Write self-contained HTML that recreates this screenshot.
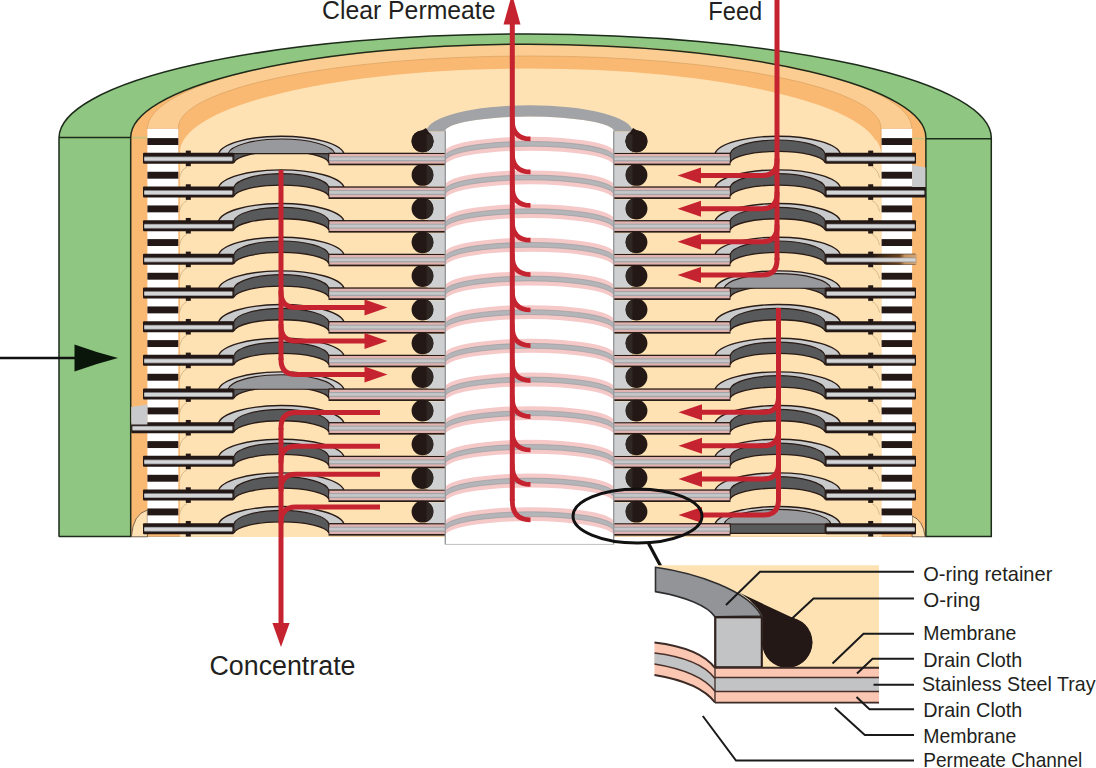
<!DOCTYPE html>
<html><head><meta charset="utf-8"><title>Membrane module</title>
<style>html,body{margin:0;padding:0;background:#fff;}svg{display:block;}</style></head>
<body>
<svg width="1096" height="768" viewBox="0 0 1096 768">
<rect width="1096" height="768" fill="#fff"/>
<path d="M59,536.8 V137.5 A466.15,104 0 0 1 991.3,138.5 V536.6 H59 Z" fill="#8fc681" stroke="#1d2b1a" stroke-width="1.5"/>
<path d="M59,137.5 H131 M926,138.7 H991.3" stroke="#1d2b1a" stroke-width="1.5" fill="none"/>
<path d="M130.7,536.8 V137.5 A397.6,93.3 0 0 1 925.9,137.5 V536.8 Z" fill="#fab973"/>
<rect x="131.5" y="536.8" width="793.6" height="3" fill="#fff"/>
<path d="M131.5,137.6 H147 M912.5,138.6 H925" stroke="#c9c27f" stroke-width="1.6"/>
<path d="M147.4,129 A382.1,85 0 0 1 911.9,129 Z" fill="#fccd92" stroke="#d9a262" stroke-width="0.7"/>
<path d="M130.7,536.8 V137.5 A397.6,93.3 0 0 1 925.9,137.5 V536.8" fill="none" stroke="#1d2b1a" stroke-width="1.5"/>
<path d="M178.3,160 V128 A351.3,72 0 0 1 881,128 V160 Z" fill="#fab973" stroke="#d9a262" stroke-width="0.7"/>
<path d="M180,536.8 V152 A349.5,83.5 0 0 1 879,152 V536.8 Z" fill="#fee2b4"/>
<path d="M876,536.8 V140 Q881,146 881.7,156 V536.8 Z" fill="#fee2b4"/>
<path d="M131.4,536.8 Q133,514 147.4,510 V536.8 Z" fill="#fee2b4" stroke="#2a1c17" stroke-width="0.6"/>
<path d="M925.2,536.8 Q923,520 912.1,516 V536.8 Z" fill="#fee2b4" stroke="#2a1c17" stroke-width="0.6"/>
<rect x="147.4" y="128.8" width="30.9" height="405.2" fill="#fff"/>
<rect x="147.4" y="138.1" width="30.9" height="6.9" fill="#231815"/>
<rect x="147.4" y="171.77" width="30.9" height="6.9" fill="#231815"/>
<rect x="147.4" y="205.44" width="30.9" height="6.9" fill="#231815"/>
<rect x="147.4" y="239.11" width="30.9" height="6.9" fill="#231815"/>
<rect x="147.4" y="272.78" width="30.9" height="6.9" fill="#231815"/>
<rect x="147.4" y="306.45" width="30.9" height="6.9" fill="#231815"/>
<rect x="147.4" y="340.12" width="30.9" height="6.9" fill="#231815"/>
<rect x="147.4" y="373.79" width="30.9" height="6.9" fill="#231815"/>
<rect x="147.4" y="407.46" width="30.9" height="6.9" fill="#231815"/>
<rect x="147.4" y="441.13" width="30.9" height="6.9" fill="#231815"/>
<rect x="147.4" y="474.8" width="30.9" height="6.9" fill="#231815"/>
<rect x="147.4" y="508.47" width="30.9" height="6.9" fill="#231815"/>
<rect x="881.6" y="128.8" width="30.5" height="405.2" fill="#fff"/>
<rect x="881.6" y="138.1" width="30.5" height="6.9" fill="#231815"/>
<rect x="881.6" y="171.77" width="30.5" height="6.9" fill="#231815"/>
<rect x="881.6" y="205.44" width="30.5" height="6.9" fill="#231815"/>
<rect x="881.6" y="239.11" width="30.5" height="6.9" fill="#231815"/>
<rect x="881.6" y="272.78" width="30.5" height="6.9" fill="#231815"/>
<rect x="881.6" y="306.45" width="30.5" height="6.9" fill="#231815"/>
<rect x="881.6" y="340.12" width="30.5" height="6.9" fill="#231815"/>
<rect x="881.6" y="373.79" width="30.5" height="6.9" fill="#231815"/>
<rect x="881.6" y="407.46" width="30.5" height="6.9" fill="#231815"/>
<rect x="881.6" y="441.13" width="30.5" height="6.9" fill="#231815"/>
<rect x="881.6" y="474.8" width="30.5" height="6.9" fill="#231815"/>
<rect x="881.6" y="508.47" width="30.5" height="6.9" fill="#231815"/>
<path d="M179.5,177.8 Q181,169.8 187,166.8" stroke="#cfae80" stroke-width="0.8" fill="none"/>
<path d="M218.5,154 A63.01,19.36 0 0 1 344,153.6 Z" fill="#c9cacc" stroke="#2a1c17" stroke-width="1.4" stroke-linejoin="round"/>
<path d="M233.8,153.6 A47.8,14.96 0 0 1 329,153.6 V162.5 H233.8 Z" fill="#58595b" stroke="#2a1c17" stroke-width="1.2"/>
<path d="M233.8,162.7 A47.8,12.43 0 0 1 329,162.7 V166.6 H233.8 Z" fill="#fee2b4"/>
<path d="M233.8,162.7 A47.8,12.43 0 0 1 329,162.7" fill="none" stroke="#2a1c17" stroke-width="1.3"/>
<path d="M228,153.6 A53.72,16.06 0 0 1 335,153.6 Z" fill="#98999c" stroke="#2a1c17" stroke-width="1.1"/>
<rect x="185.8" y="150.6" width="5" height="15.6" fill="#231815"/>
<rect x="143" y="152.8" width="90.8" height="11" rx="1" fill="#231815"/>
<rect x="144.3" y="156.5" width="88" height="4.8" fill="#8e8f92"/>
<rect x="144.3" y="157.3" width="88" height="3.2" fill="#d4d5d7"/>
<rect x="328.5" y="152.7" width="116.5" height="12.6" fill="#2a1c17"/>
<rect x="329.4" y="154" width="115.6" height="9.6" fill="#e2b4b1"/>
<rect x="329.4" y="156.3" width="115.6" height="5.1" fill="#a4a5a8"/>
<rect x="329.4" y="157.4" width="115.6" height="2.7" fill="#c6c7c9"/>
<rect x="427.5" y="132.1" width="17.5" height="20.7" fill="#cfd0d2"/>
<circle cx="422.5" cy="141.3" r="10.9" fill="#231815"/>
<path d="M426.5,131.2 A10.9,10.9 0 0 1 426.5,151.4 Z" fill="#2f2723"/>
<path d="M179.5,211.47 Q181,203.47 187,200.47" stroke="#cfae80" stroke-width="0.8" fill="none"/>
<path d="M218.5,187.67 A63.01,19.36 0 0 1 344,187.27 Z" fill="#c9cacc" stroke="#2a1c17" stroke-width="1.4" stroke-linejoin="round"/>
<path d="M233.8,187.27 A47.8,14.96 0 0 1 329,187.27 V196.17 H233.8 Z" fill="#58595b" stroke="#2a1c17" stroke-width="1.2"/>
<path d="M233.8,196.37 A47.8,12.43 0 0 1 329,196.37 V200.27 H233.8 Z" fill="#fee2b4"/>
<path d="M233.8,196.37 A47.8,12.43 0 0 1 329,196.37" fill="none" stroke="#2a1c17" stroke-width="1.3"/>
<rect x="185.8" y="184.27" width="5" height="15.6" fill="#231815"/>
<rect x="143" y="186.47" width="90.8" height="11" rx="1" fill="#231815"/>
<rect x="144.3" y="190.17" width="88" height="4.8" fill="#8e8f92"/>
<rect x="144.3" y="190.97" width="88" height="3.2" fill="#d4d5d7"/>
<rect x="328.5" y="186.37" width="116.5" height="12.6" fill="#2a1c17"/>
<rect x="329.4" y="187.67" width="115.6" height="9.6" fill="#e2b4b1"/>
<rect x="329.4" y="189.97" width="115.6" height="5.1" fill="#a4a5a8"/>
<rect x="329.4" y="191.07" width="115.6" height="2.7" fill="#c6c7c9"/>
<rect x="427.5" y="165.7" width="17.5" height="20.77" fill="#cfd0d2"/>
<circle cx="422.5" cy="174.97" r="10.9" fill="#231815"/>
<path d="M426.5,164.87 A10.9,10.9 0 0 1 426.5,185.07 Z" fill="#2f2723"/>
<path d="M179.5,245.14 Q181,237.14 187,234.14" stroke="#cfae80" stroke-width="0.8" fill="none"/>
<path d="M218.5,221.34 A63.01,19.36 0 0 1 344,220.94 Z" fill="#c9cacc" stroke="#2a1c17" stroke-width="1.4" stroke-linejoin="round"/>
<path d="M233.8,220.94 A47.8,14.96 0 0 1 329,220.94 V229.84 H233.8 Z" fill="#58595b" stroke="#2a1c17" stroke-width="1.2"/>
<path d="M233.8,230.04 A47.8,12.43 0 0 1 329,230.04 V233.94 H233.8 Z" fill="#fee2b4"/>
<path d="M233.8,230.04 A47.8,12.43 0 0 1 329,230.04" fill="none" stroke="#2a1c17" stroke-width="1.3"/>
<rect x="185.8" y="217.94" width="5" height="15.6" fill="#231815"/>
<rect x="143" y="220.14" width="90.8" height="11" rx="1" fill="#231815"/>
<rect x="144.3" y="223.84" width="88" height="4.8" fill="#8e8f92"/>
<rect x="144.3" y="224.64" width="88" height="3.2" fill="#d4d5d7"/>
<rect x="328.5" y="220.04" width="116.5" height="12.6" fill="#2a1c17"/>
<rect x="329.4" y="221.34" width="115.6" height="9.6" fill="#e2b4b1"/>
<rect x="329.4" y="223.64" width="115.6" height="5.1" fill="#a4a5a8"/>
<rect x="329.4" y="224.74" width="115.6" height="2.7" fill="#c6c7c9"/>
<rect x="427.5" y="199.37" width="17.5" height="20.77" fill="#cfd0d2"/>
<circle cx="422.5" cy="208.64" r="10.9" fill="#231815"/>
<path d="M426.5,198.54 A10.9,10.9 0 0 1 426.5,218.74 Z" fill="#2f2723"/>
<path d="M179.5,278.81 Q181,270.81 187,267.81" stroke="#cfae80" stroke-width="0.8" fill="none"/>
<path d="M218.5,255.01 A63.01,19.36 0 0 1 344,254.61 Z" fill="#c9cacc" stroke="#2a1c17" stroke-width="1.4" stroke-linejoin="round"/>
<path d="M233.8,254.61 A47.8,14.96 0 0 1 329,254.61 V263.51 H233.8 Z" fill="#58595b" stroke="#2a1c17" stroke-width="1.2"/>
<path d="M233.8,263.71 A47.8,12.43 0 0 1 329,263.71 V267.61 H233.8 Z" fill="#fee2b4"/>
<path d="M233.8,263.71 A47.8,12.43 0 0 1 329,263.71" fill="none" stroke="#2a1c17" stroke-width="1.3"/>
<rect x="185.8" y="251.61" width="5" height="15.6" fill="#231815"/>
<rect x="143" y="253.81" width="90.8" height="11" rx="1" fill="#231815"/>
<rect x="144.3" y="257.51" width="88" height="4.8" fill="#8e8f92"/>
<rect x="144.3" y="258.31" width="88" height="3.2" fill="#d4d5d7"/>
<rect x="328.5" y="253.71" width="116.5" height="12.6" fill="#2a1c17"/>
<rect x="329.4" y="255.01" width="115.6" height="9.6" fill="#e2b4b1"/>
<rect x="329.4" y="257.31" width="115.6" height="5.1" fill="#a4a5a8"/>
<rect x="329.4" y="258.41" width="115.6" height="2.7" fill="#c6c7c9"/>
<rect x="427.5" y="233.04" width="17.5" height="20.77" fill="#cfd0d2"/>
<circle cx="422.5" cy="242.31" r="10.9" fill="#231815"/>
<path d="M426.5,232.21 A10.9,10.9 0 0 1 426.5,252.41 Z" fill="#2f2723"/>
<path d="M179.5,312.48 Q181,304.48 187,301.48" stroke="#cfae80" stroke-width="0.8" fill="none"/>
<path d="M218.5,288.68 A63.01,19.36 0 0 1 344,288.28 Z" fill="#c9cacc" stroke="#2a1c17" stroke-width="1.4" stroke-linejoin="round"/>
<path d="M233.8,288.28 A47.8,14.96 0 0 1 329,288.28 V297.18 H233.8 Z" fill="#58595b" stroke="#2a1c17" stroke-width="1.2"/>
<path d="M233.8,297.38 A47.8,12.43 0 0 1 329,297.38 V301.28 H233.8 Z" fill="#fee2b4"/>
<path d="M233.8,297.38 A47.8,12.43 0 0 1 329,297.38" fill="none" stroke="#2a1c17" stroke-width="1.3"/>
<rect x="185.8" y="285.28" width="5" height="15.6" fill="#231815"/>
<rect x="143" y="287.48" width="90.8" height="11" rx="1" fill="#231815"/>
<rect x="144.3" y="291.18" width="88" height="4.8" fill="#8e8f92"/>
<rect x="144.3" y="291.98" width="88" height="3.2" fill="#d4d5d7"/>
<rect x="328.5" y="287.38" width="116.5" height="12.6" fill="#2a1c17"/>
<rect x="329.4" y="288.68" width="115.6" height="9.6" fill="#e2b4b1"/>
<rect x="329.4" y="290.98" width="115.6" height="5.1" fill="#a4a5a8"/>
<rect x="329.4" y="292.08" width="115.6" height="2.7" fill="#c6c7c9"/>
<rect x="427.5" y="266.71" width="17.5" height="20.77" fill="#cfd0d2"/>
<circle cx="422.5" cy="275.98" r="10.9" fill="#231815"/>
<path d="M426.5,265.88 A10.9,10.9 0 0 1 426.5,286.08 Z" fill="#2f2723"/>
<path d="M179.5,346.15 Q181,338.15 187,335.15" stroke="#cfae80" stroke-width="0.8" fill="none"/>
<path d="M218.5,322.35 A63.01,19.36 0 0 1 344,321.95 Z" fill="#c9cacc" stroke="#2a1c17" stroke-width="1.4" stroke-linejoin="round"/>
<path d="M233.8,321.95 A47.8,14.96 0 0 1 329,321.95 V330.85 H233.8 Z" fill="#58595b" stroke="#2a1c17" stroke-width="1.2"/>
<path d="M233.8,331.05 A47.8,12.43 0 0 1 329,331.05 V334.95 H233.8 Z" fill="#fee2b4"/>
<path d="M233.8,331.05 A47.8,12.43 0 0 1 329,331.05" fill="none" stroke="#2a1c17" stroke-width="1.3"/>
<rect x="185.8" y="318.95" width="5" height="15.6" fill="#231815"/>
<rect x="143" y="321.15" width="90.8" height="11" rx="1" fill="#231815"/>
<rect x="144.3" y="324.85" width="88" height="4.8" fill="#8e8f92"/>
<rect x="144.3" y="325.65" width="88" height="3.2" fill="#d4d5d7"/>
<rect x="328.5" y="321.05" width="116.5" height="12.6" fill="#2a1c17"/>
<rect x="329.4" y="322.35" width="115.6" height="9.6" fill="#e2b4b1"/>
<rect x="329.4" y="324.65" width="115.6" height="5.1" fill="#a4a5a8"/>
<rect x="329.4" y="325.75" width="115.6" height="2.7" fill="#c6c7c9"/>
<rect x="427.5" y="300.38" width="17.5" height="20.77" fill="#cfd0d2"/>
<circle cx="422.5" cy="309.65" r="10.9" fill="#231815"/>
<path d="M426.5,299.55 A10.9,10.9 0 0 1 426.5,319.75 Z" fill="#2f2723"/>
<path d="M179.5,379.82 Q181,371.82 187,368.82" stroke="#cfae80" stroke-width="0.8" fill="none"/>
<path d="M218.5,356.02 A63.01,19.36 0 0 1 344,355.62 Z" fill="#c9cacc" stroke="#2a1c17" stroke-width="1.4" stroke-linejoin="round"/>
<path d="M233.8,355.62 A47.8,14.96 0 0 1 329,355.62 V364.52 H233.8 Z" fill="#58595b" stroke="#2a1c17" stroke-width="1.2"/>
<path d="M233.8,364.72 A47.8,12.43 0 0 1 329,364.72 V368.62 H233.8 Z" fill="#fee2b4"/>
<path d="M233.8,364.72 A47.8,12.43 0 0 1 329,364.72" fill="none" stroke="#2a1c17" stroke-width="1.3"/>
<rect x="185.8" y="352.62" width="5" height="15.6" fill="#231815"/>
<rect x="143" y="354.82" width="90.8" height="11" rx="1" fill="#231815"/>
<rect x="144.3" y="358.52" width="88" height="4.8" fill="#8e8f92"/>
<rect x="144.3" y="359.32" width="88" height="3.2" fill="#d4d5d7"/>
<rect x="328.5" y="354.72" width="116.5" height="12.6" fill="#2a1c17"/>
<rect x="329.4" y="356.02" width="115.6" height="9.6" fill="#e2b4b1"/>
<rect x="329.4" y="358.32" width="115.6" height="5.1" fill="#a4a5a8"/>
<rect x="329.4" y="359.42" width="115.6" height="2.7" fill="#c6c7c9"/>
<rect x="427.5" y="334.05" width="17.5" height="20.77" fill="#cfd0d2"/>
<circle cx="422.5" cy="343.32" r="10.9" fill="#231815"/>
<path d="M426.5,333.22 A10.9,10.9 0 0 1 426.5,353.42 Z" fill="#2f2723"/>
<path d="M179.5,413.49 Q181,405.49 187,402.49" stroke="#cfae80" stroke-width="0.8" fill="none"/>
<path d="M218.5,389.69 A63.01,19.36 0 0 1 344,389.29 Z" fill="#c9cacc" stroke="#2a1c17" stroke-width="1.4" stroke-linejoin="round"/>
<path d="M233.8,389.29 A47.8,14.96 0 0 1 329,389.29 V398.19 H233.8 Z" fill="#58595b" stroke="#2a1c17" stroke-width="1.2"/>
<path d="M233.8,398.39 A47.8,12.43 0 0 1 329,398.39 V402.29 H233.8 Z" fill="#fee2b4"/>
<path d="M233.8,398.39 A47.8,12.43 0 0 1 329,398.39" fill="none" stroke="#2a1c17" stroke-width="1.3"/>
<path d="M228,389.29 A53.72,16.06 0 0 1 335,389.29 Z" fill="#98999c" stroke="#2a1c17" stroke-width="1.1"/>
<rect x="185.8" y="386.29" width="5" height="15.6" fill="#231815"/>
<rect x="143" y="388.49" width="90.8" height="11" rx="1" fill="#231815"/>
<rect x="144.3" y="392.19" width="88" height="4.8" fill="#8e8f92"/>
<rect x="144.3" y="392.99" width="88" height="3.2" fill="#d4d5d7"/>
<rect x="328.5" y="388.39" width="116.5" height="12.6" fill="#2a1c17"/>
<rect x="329.4" y="389.69" width="115.6" height="9.6" fill="#e2b4b1"/>
<rect x="329.4" y="391.99" width="115.6" height="5.1" fill="#a4a5a8"/>
<rect x="329.4" y="393.09" width="115.6" height="2.7" fill="#c6c7c9"/>
<rect x="427.5" y="367.72" width="17.5" height="20.77" fill="#cfd0d2"/>
<circle cx="422.5" cy="376.99" r="10.9" fill="#231815"/>
<path d="M426.5,366.89 A10.9,10.9 0 0 1 426.5,387.09 Z" fill="#2f2723"/>
<path d="M179.5,447.16 Q181,439.16 187,436.16" stroke="#cfae80" stroke-width="0.8" fill="none"/>
<path d="M218.5,423.36 A63.01,19.36 0 0 1 344,422.96 Z" fill="#c9cacc" stroke="#2a1c17" stroke-width="1.4" stroke-linejoin="round"/>
<path d="M233.8,422.96 A47.8,14.96 0 0 1 329,422.96 V431.86 H233.8 Z" fill="#58595b" stroke="#2a1c17" stroke-width="1.2"/>
<path d="M233.8,432.06 A47.8,12.43 0 0 1 329,432.06 V435.96 H233.8 Z" fill="#fee2b4"/>
<path d="M233.8,432.06 A47.8,12.43 0 0 1 329,432.06" fill="none" stroke="#2a1c17" stroke-width="1.3"/>
<rect x="185.8" y="419.96" width="5" height="15.6" fill="#231815"/>
<rect x="131.2" y="422.16" width="102.6" height="11" rx="1" fill="#231815"/>
<rect x="132.5" y="425.86" width="99.8" height="4.8" fill="#8e8f92"/>
<rect x="132.5" y="426.66" width="99.8" height="3.2" fill="#d4d5d7"/>
<rect x="328.5" y="422.06" width="116.5" height="12.6" fill="#2a1c17"/>
<rect x="329.4" y="423.36" width="115.6" height="9.6" fill="#e2b4b1"/>
<rect x="329.4" y="425.66" width="115.6" height="5.1" fill="#a4a5a8"/>
<rect x="329.4" y="426.76" width="115.6" height="2.7" fill="#c6c7c9"/>
<rect x="427.5" y="401.39" width="17.5" height="20.77" fill="#cfd0d2"/>
<circle cx="422.5" cy="410.66" r="10.9" fill="#231815"/>
<path d="M426.5,400.56 A10.9,10.9 0 0 1 426.5,420.76 Z" fill="#2f2723"/>
<path d="M179.5,480.83 Q181,472.83 187,469.83" stroke="#cfae80" stroke-width="0.8" fill="none"/>
<path d="M218.5,457.03 A63.01,19.36 0 0 1 344,456.63 Z" fill="#c9cacc" stroke="#2a1c17" stroke-width="1.4" stroke-linejoin="round"/>
<path d="M233.8,456.63 A47.8,14.96 0 0 1 329,456.63 V465.53 H233.8 Z" fill="#58595b" stroke="#2a1c17" stroke-width="1.2"/>
<path d="M233.8,465.73 A47.8,12.43 0 0 1 329,465.73 V469.63 H233.8 Z" fill="#fee2b4"/>
<path d="M233.8,465.73 A47.8,12.43 0 0 1 329,465.73" fill="none" stroke="#2a1c17" stroke-width="1.3"/>
<rect x="185.8" y="453.63" width="5" height="15.6" fill="#231815"/>
<rect x="143" y="455.83" width="90.8" height="11" rx="1" fill="#231815"/>
<rect x="144.3" y="459.53" width="88" height="4.8" fill="#8e8f92"/>
<rect x="144.3" y="460.33" width="88" height="3.2" fill="#d4d5d7"/>
<rect x="328.5" y="455.73" width="116.5" height="12.6" fill="#2a1c17"/>
<rect x="329.4" y="457.03" width="115.6" height="9.6" fill="#e2b4b1"/>
<rect x="329.4" y="459.33" width="115.6" height="5.1" fill="#a4a5a8"/>
<rect x="329.4" y="460.43" width="115.6" height="2.7" fill="#c6c7c9"/>
<rect x="427.5" y="435.06" width="17.5" height="20.77" fill="#cfd0d2"/>
<circle cx="422.5" cy="444.33" r="10.9" fill="#231815"/>
<path d="M426.5,434.23 A10.9,10.9 0 0 1 426.5,454.43 Z" fill="#2f2723"/>
<path d="M179.5,514.5 Q181,506.5 187,503.5" stroke="#cfae80" stroke-width="0.8" fill="none"/>
<path d="M218.5,490.7 A63.01,19.36 0 0 1 344,490.3 Z" fill="#c9cacc" stroke="#2a1c17" stroke-width="1.4" stroke-linejoin="round"/>
<path d="M233.8,490.3 A47.8,14.96 0 0 1 329,490.3 V499.2 H233.8 Z" fill="#58595b" stroke="#2a1c17" stroke-width="1.2"/>
<path d="M233.8,499.4 A47.8,12.43 0 0 1 329,499.4 V503.3 H233.8 Z" fill="#fee2b4"/>
<path d="M233.8,499.4 A47.8,12.43 0 0 1 329,499.4" fill="none" stroke="#2a1c17" stroke-width="1.3"/>
<rect x="185.8" y="487.3" width="5" height="15.6" fill="#231815"/>
<rect x="143" y="489.5" width="90.8" height="11" rx="1" fill="#231815"/>
<rect x="144.3" y="493.2" width="88" height="4.8" fill="#8e8f92"/>
<rect x="144.3" y="494" width="88" height="3.2" fill="#d4d5d7"/>
<rect x="328.5" y="489.4" width="116.5" height="12.6" fill="#2a1c17"/>
<rect x="329.4" y="490.7" width="115.6" height="9.6" fill="#e2b4b1"/>
<rect x="329.4" y="493" width="115.6" height="5.1" fill="#a4a5a8"/>
<rect x="329.4" y="494.1" width="115.6" height="2.7" fill="#c6c7c9"/>
<rect x="427.5" y="468.73" width="17.5" height="20.77" fill="#cfd0d2"/>
<circle cx="422.5" cy="478" r="10.9" fill="#231815"/>
<path d="M426.5,467.9 A10.9,10.9 0 0 1 426.5,488.1 Z" fill="#2f2723"/>
<path d="M218.5,524.37 A63.01,19.36 0 0 1 344,523.97 Z" fill="#c9cacc" stroke="#2a1c17" stroke-width="1.4" stroke-linejoin="round"/>
<path d="M233.8,523.97 A47.8,14.96 0 0 1 329,523.97 V532.87 H233.8 Z" fill="#58595b" stroke="#2a1c17" stroke-width="1.2"/>
<path d="M233.8,533.07 A47.8,12.43 0 0 1 329,533.07 V536.97 H233.8 Z" fill="#fee2b4"/>
<path d="M233.8,533.07 A47.8,12.43 0 0 1 329,533.07" fill="none" stroke="#2a1c17" stroke-width="1.3"/>
<rect x="185.8" y="520.97" width="5" height="15.6" fill="#231815"/>
<rect x="143" y="523.17" width="90.8" height="11" rx="1" fill="#231815"/>
<rect x="144.3" y="526.87" width="88" height="4.8" fill="#8e8f92"/>
<rect x="144.3" y="527.67" width="88" height="3.2" fill="#d4d5d7"/>
<rect x="328.5" y="523.07" width="116.5" height="12.6" fill="#2a1c17"/>
<rect x="329.4" y="524.37" width="115.6" height="9.6" fill="#e2b4b1"/>
<rect x="329.4" y="526.67" width="115.6" height="5.1" fill="#a4a5a8"/>
<rect x="329.4" y="527.77" width="115.6" height="2.7" fill="#c6c7c9"/>
<rect x="427.5" y="502.4" width="17.5" height="20.77" fill="#cfd0d2"/>
<circle cx="422.5" cy="511.67" r="10.9" fill="#231815"/>
<path d="M426.5,501.57 A10.9,10.9 0 0 1 426.5,521.77 Z" fill="#2f2723"/>
<path d="M879.5,177.8 Q878,169.8 872,166.8" stroke="#cfae80" stroke-width="0.8" fill="none"/>
<path d="M840.5,154 A63.01,19.36 0 0 0 715,153.6 Z" fill="#c9cacc" stroke="#2a1c17" stroke-width="1.4" stroke-linejoin="round"/>
<path d="M825.2,153.6 A47.8,14.96 0 0 0 730,153.6 V162.5 H825.2 Z" fill="#58595b" stroke="#2a1c17" stroke-width="1.2"/>
<path d="M825.2,162.7 A47.8,12.43 0 0 0 730,162.7 V166.6 H825.2 Z" fill="#fee2b4"/>
<path d="M825.2,162.7 A47.8,12.43 0 0 0 730,162.7" fill="none" stroke="#2a1c17" stroke-width="1.3"/>
<rect x="868.2" y="150.6" width="5" height="15.6" fill="#231815"/>
<rect x="825.2" y="152.8" width="90.8" height="11" rx="1" fill="#231815"/>
<rect x="826.7" y="156.5" width="88" height="4.8" fill="#8e8f92"/>
<rect x="826.7" y="157.3" width="88" height="3.2" fill="#d4d5d7"/>
<rect x="614" y="152.7" width="116.5" height="12.6" fill="#2a1c17"/>
<rect x="614" y="154" width="115.6" height="9.6" fill="#e2b4b1"/>
<rect x="614" y="156.3" width="115.6" height="5.1" fill="#a4a5a8"/>
<rect x="614" y="157.4" width="115.6" height="2.7" fill="#c6c7c9"/>
<rect x="614" y="132.1" width="17.5" height="20.7" fill="#cfd0d2"/>
<circle cx="636.5" cy="141.3" r="10.9" fill="#231815"/>
<path d="M632.5,131.2 A10.9,10.9 0 0 0 632.5,151.4 Z" fill="#2f2723"/>
<path d="M879.5,211.47 Q878,203.47 872,200.47" stroke="#cfae80" stroke-width="0.8" fill="none"/>
<path d="M840.5,187.67 A63.01,19.36 0 0 0 715,187.27 Z" fill="#c9cacc" stroke="#2a1c17" stroke-width="1.4" stroke-linejoin="round"/>
<path d="M825.2,187.27 A47.8,14.96 0 0 0 730,187.27 V196.17 H825.2 Z" fill="#58595b" stroke="#2a1c17" stroke-width="1.2"/>
<path d="M825.2,196.37 A47.8,12.43 0 0 0 730,196.37 V200.27 H825.2 Z" fill="#fee2b4"/>
<path d="M825.2,196.37 A47.8,12.43 0 0 0 730,196.37" fill="none" stroke="#2a1c17" stroke-width="1.3"/>
<rect x="868.2" y="184.27" width="5" height="15.6" fill="#231815"/>
<rect x="825.2" y="186.47" width="100.4" height="11" rx="1" fill="#231815"/>
<rect x="826.7" y="190.17" width="97.6" height="4.8" fill="#8e8f92"/>
<rect x="826.7" y="190.97" width="97.6" height="3.2" fill="#d4d5d7"/>
<rect x="614" y="186.37" width="116.5" height="12.6" fill="#2a1c17"/>
<rect x="614" y="187.67" width="115.6" height="9.6" fill="#e2b4b1"/>
<rect x="614" y="189.97" width="115.6" height="5.1" fill="#a4a5a8"/>
<rect x="614" y="191.07" width="115.6" height="2.7" fill="#c6c7c9"/>
<rect x="614" y="165.7" width="17.5" height="20.77" fill="#cfd0d2"/>
<circle cx="636.5" cy="174.97" r="10.9" fill="#231815"/>
<path d="M632.5,164.87 A10.9,10.9 0 0 0 632.5,185.07 Z" fill="#2f2723"/>
<path d="M879.5,245.14 Q878,237.14 872,234.14" stroke="#cfae80" stroke-width="0.8" fill="none"/>
<path d="M840.5,221.34 A63.01,19.36 0 0 0 715,220.94 Z" fill="#c9cacc" stroke="#2a1c17" stroke-width="1.4" stroke-linejoin="round"/>
<path d="M825.2,220.94 A47.8,14.96 0 0 0 730,220.94 V229.84 H825.2 Z" fill="#58595b" stroke="#2a1c17" stroke-width="1.2"/>
<path d="M825.2,230.04 A47.8,12.43 0 0 0 730,230.04 V233.94 H825.2 Z" fill="#fee2b4"/>
<path d="M825.2,230.04 A47.8,12.43 0 0 0 730,230.04" fill="none" stroke="#2a1c17" stroke-width="1.3"/>
<rect x="868.2" y="217.94" width="5" height="15.6" fill="#231815"/>
<rect x="825.2" y="220.14" width="90.8" height="11" rx="1" fill="#231815"/>
<rect x="826.7" y="223.84" width="88" height="4.8" fill="#8e8f92"/>
<rect x="826.7" y="224.64" width="88" height="3.2" fill="#d4d5d7"/>
<rect x="614" y="220.04" width="116.5" height="12.6" fill="#2a1c17"/>
<rect x="614" y="221.34" width="115.6" height="9.6" fill="#e2b4b1"/>
<rect x="614" y="223.64" width="115.6" height="5.1" fill="#a4a5a8"/>
<rect x="614" y="224.74" width="115.6" height="2.7" fill="#c6c7c9"/>
<rect x="614" y="199.37" width="17.5" height="20.77" fill="#cfd0d2"/>
<circle cx="636.5" cy="208.64" r="10.9" fill="#231815"/>
<path d="M632.5,198.54 A10.9,10.9 0 0 0 632.5,218.74 Z" fill="#2f2723"/>
<path d="M879.5,278.81 Q878,270.81 872,267.81" stroke="#cfae80" stroke-width="0.8" fill="none"/>
<path d="M840.5,255.01 A63.01,19.36 0 0 0 715,254.61 Z" fill="#c9cacc" stroke="#2a1c17" stroke-width="1.4" stroke-linejoin="round"/>
<path d="M825.2,254.61 A47.8,14.96 0 0 0 730,254.61 V263.51 H825.2 Z" fill="#58595b" stroke="#2a1c17" stroke-width="1.2"/>
<path d="M825.2,263.71 A47.8,12.43 0 0 0 730,263.71 V267.61 H825.2 Z" fill="#fee2b4"/>
<path d="M825.2,263.71 A47.8,12.43 0 0 0 730,263.71" fill="none" stroke="#2a1c17" stroke-width="1.3"/>
<rect x="868.2" y="251.61" width="5" height="15.6" fill="#231815"/>
<rect x="825.2" y="253.81" width="90.8" height="11" rx="1" fill="#231815"/>
<rect x="826.7" y="257.51" width="88" height="4.8" fill="#8e8f92"/>
<rect x="826.7" y="258.31" width="88" height="3.2" fill="#d4d5d7"/>
<rect x="614" y="253.71" width="116.5" height="12.6" fill="#2a1c17"/>
<rect x="614" y="255.01" width="115.6" height="9.6" fill="#e2b4b1"/>
<rect x="614" y="257.31" width="115.6" height="5.1" fill="#a4a5a8"/>
<rect x="614" y="258.41" width="115.6" height="2.7" fill="#c6c7c9"/>
<rect x="614" y="233.04" width="17.5" height="20.77" fill="#cfd0d2"/>
<circle cx="636.5" cy="242.31" r="10.9" fill="#231815"/>
<path d="M632.5,232.21 A10.9,10.9 0 0 0 632.5,252.41 Z" fill="#2f2723"/>
<path d="M879.5,312.48 Q878,304.48 872,301.48" stroke="#cfae80" stroke-width="0.8" fill="none"/>
<path d="M840.5,288.68 A63.01,19.36 0 0 0 715,288.28 Z" fill="#c9cacc" stroke="#2a1c17" stroke-width="1.4" stroke-linejoin="round"/>
<path d="M825.2,288.28 A47.8,14.96 0 0 0 730,288.28 V297.18 H825.2 Z" fill="#58595b" stroke="#2a1c17" stroke-width="1.2"/>
<path d="M825.2,297.38 A47.8,12.43 0 0 0 730,297.38 V301.28 H825.2 Z" fill="#fee2b4"/>
<path d="M825.2,297.38 A47.8,12.43 0 0 0 730,297.38" fill="none" stroke="#2a1c17" stroke-width="1.3"/>
<path d="M831,288.28 A53.72,16.06 0 0 0 724,288.28 Z" fill="#98999c" stroke="#2a1c17" stroke-width="1.1"/>
<rect x="868.2" y="285.28" width="5" height="15.6" fill="#231815"/>
<rect x="825.2" y="287.48" width="90.8" height="11" rx="1" fill="#231815"/>
<rect x="826.7" y="291.18" width="88" height="4.8" fill="#8e8f92"/>
<rect x="826.7" y="291.98" width="88" height="3.2" fill="#d4d5d7"/>
<rect x="614" y="287.38" width="116.5" height="12.6" fill="#2a1c17"/>
<rect x="614" y="288.68" width="115.6" height="9.6" fill="#e2b4b1"/>
<rect x="614" y="290.98" width="115.6" height="5.1" fill="#a4a5a8"/>
<rect x="614" y="292.08" width="115.6" height="2.7" fill="#c6c7c9"/>
<rect x="614" y="266.71" width="17.5" height="20.77" fill="#cfd0d2"/>
<circle cx="636.5" cy="275.98" r="10.9" fill="#231815"/>
<path d="M632.5,265.88 A10.9,10.9 0 0 0 632.5,286.08 Z" fill="#2f2723"/>
<path d="M879.5,346.15 Q878,338.15 872,335.15" stroke="#cfae80" stroke-width="0.8" fill="none"/>
<path d="M840.5,322.35 A63.01,19.36 0 0 0 715,321.95 Z" fill="#c9cacc" stroke="#2a1c17" stroke-width="1.4" stroke-linejoin="round"/>
<path d="M825.2,321.95 A47.8,14.96 0 0 0 730,321.95 V330.85 H825.2 Z" fill="#58595b" stroke="#2a1c17" stroke-width="1.2"/>
<path d="M825.2,331.05 A47.8,12.43 0 0 0 730,331.05 V334.95 H825.2 Z" fill="#fee2b4"/>
<path d="M825.2,331.05 A47.8,12.43 0 0 0 730,331.05" fill="none" stroke="#2a1c17" stroke-width="1.3"/>
<rect x="868.2" y="318.95" width="5" height="15.6" fill="#231815"/>
<rect x="825.2" y="321.15" width="90.8" height="11" rx="1" fill="#231815"/>
<rect x="826.7" y="324.85" width="88" height="4.8" fill="#8e8f92"/>
<rect x="826.7" y="325.65" width="88" height="3.2" fill="#d4d5d7"/>
<rect x="614" y="321.05" width="116.5" height="12.6" fill="#2a1c17"/>
<rect x="614" y="322.35" width="115.6" height="9.6" fill="#e2b4b1"/>
<rect x="614" y="324.65" width="115.6" height="5.1" fill="#a4a5a8"/>
<rect x="614" y="325.75" width="115.6" height="2.7" fill="#c6c7c9"/>
<rect x="614" y="300.38" width="17.5" height="20.77" fill="#cfd0d2"/>
<circle cx="636.5" cy="309.65" r="10.9" fill="#231815"/>
<path d="M632.5,299.55 A10.9,10.9 0 0 0 632.5,319.75 Z" fill="#2f2723"/>
<path d="M879.5,379.82 Q878,371.82 872,368.82" stroke="#cfae80" stroke-width="0.8" fill="none"/>
<path d="M840.5,356.02 A63.01,19.36 0 0 0 715,355.62 Z" fill="#c9cacc" stroke="#2a1c17" stroke-width="1.4" stroke-linejoin="round"/>
<path d="M825.2,355.62 A47.8,14.96 0 0 0 730,355.62 V364.52 H825.2 Z" fill="#58595b" stroke="#2a1c17" stroke-width="1.2"/>
<path d="M825.2,364.72 A47.8,12.43 0 0 0 730,364.72 V368.62 H825.2 Z" fill="#fee2b4"/>
<path d="M825.2,364.72 A47.8,12.43 0 0 0 730,364.72" fill="none" stroke="#2a1c17" stroke-width="1.3"/>
<rect x="868.2" y="352.62" width="5" height="15.6" fill="#231815"/>
<rect x="825.2" y="354.82" width="90.8" height="11" rx="1" fill="#231815"/>
<rect x="826.7" y="358.52" width="88" height="4.8" fill="#8e8f92"/>
<rect x="826.7" y="359.32" width="88" height="3.2" fill="#d4d5d7"/>
<rect x="614" y="354.72" width="116.5" height="12.6" fill="#2a1c17"/>
<rect x="614" y="356.02" width="115.6" height="9.6" fill="#e2b4b1"/>
<rect x="614" y="358.32" width="115.6" height="5.1" fill="#a4a5a8"/>
<rect x="614" y="359.42" width="115.6" height="2.7" fill="#c6c7c9"/>
<rect x="614" y="334.05" width="17.5" height="20.77" fill="#cfd0d2"/>
<circle cx="636.5" cy="343.32" r="10.9" fill="#231815"/>
<path d="M632.5,333.22 A10.9,10.9 0 0 0 632.5,353.42 Z" fill="#2f2723"/>
<path d="M879.5,413.49 Q878,405.49 872,402.49" stroke="#cfae80" stroke-width="0.8" fill="none"/>
<path d="M840.5,389.69 A63.01,19.36 0 0 0 715,389.29 Z" fill="#c9cacc" stroke="#2a1c17" stroke-width="1.4" stroke-linejoin="round"/>
<path d="M825.2,389.29 A47.8,14.96 0 0 0 730,389.29 V398.19 H825.2 Z" fill="#58595b" stroke="#2a1c17" stroke-width="1.2"/>
<path d="M825.2,398.39 A47.8,12.43 0 0 0 730,398.39 V402.29 H825.2 Z" fill="#fee2b4"/>
<path d="M825.2,398.39 A47.8,12.43 0 0 0 730,398.39" fill="none" stroke="#2a1c17" stroke-width="1.3"/>
<rect x="868.2" y="386.29" width="5" height="15.6" fill="#231815"/>
<rect x="825.2" y="388.49" width="90.8" height="11" rx="1" fill="#231815"/>
<rect x="826.7" y="392.19" width="88" height="4.8" fill="#8e8f92"/>
<rect x="826.7" y="392.99" width="88" height="3.2" fill="#d4d5d7"/>
<rect x="614" y="388.39" width="116.5" height="12.6" fill="#2a1c17"/>
<rect x="614" y="389.69" width="115.6" height="9.6" fill="#e2b4b1"/>
<rect x="614" y="391.99" width="115.6" height="5.1" fill="#a4a5a8"/>
<rect x="614" y="393.09" width="115.6" height="2.7" fill="#c6c7c9"/>
<rect x="614" y="367.72" width="17.5" height="20.77" fill="#cfd0d2"/>
<circle cx="636.5" cy="376.99" r="10.9" fill="#231815"/>
<path d="M632.5,366.89 A10.9,10.9 0 0 0 632.5,387.09 Z" fill="#2f2723"/>
<path d="M879.5,447.16 Q878,439.16 872,436.16" stroke="#cfae80" stroke-width="0.8" fill="none"/>
<path d="M840.5,423.36 A63.01,19.36 0 0 0 715,422.96 Z" fill="#c9cacc" stroke="#2a1c17" stroke-width="1.4" stroke-linejoin="round"/>
<path d="M825.2,422.96 A47.8,14.96 0 0 0 730,422.96 V431.86 H825.2 Z" fill="#58595b" stroke="#2a1c17" stroke-width="1.2"/>
<path d="M825.2,432.06 A47.8,12.43 0 0 0 730,432.06 V435.96 H825.2 Z" fill="#fee2b4"/>
<path d="M825.2,432.06 A47.8,12.43 0 0 0 730,432.06" fill="none" stroke="#2a1c17" stroke-width="1.3"/>
<rect x="868.2" y="419.96" width="5" height="15.6" fill="#231815"/>
<rect x="825.2" y="422.16" width="90.8" height="11" rx="1" fill="#231815"/>
<rect x="826.7" y="425.86" width="88" height="4.8" fill="#8e8f92"/>
<rect x="826.7" y="426.66" width="88" height="3.2" fill="#d4d5d7"/>
<rect x="614" y="422.06" width="116.5" height="12.6" fill="#2a1c17"/>
<rect x="614" y="423.36" width="115.6" height="9.6" fill="#e2b4b1"/>
<rect x="614" y="425.66" width="115.6" height="5.1" fill="#a4a5a8"/>
<rect x="614" y="426.76" width="115.6" height="2.7" fill="#c6c7c9"/>
<rect x="614" y="401.39" width="17.5" height="20.77" fill="#cfd0d2"/>
<circle cx="636.5" cy="410.66" r="10.9" fill="#231815"/>
<path d="M632.5,400.56 A10.9,10.9 0 0 0 632.5,420.76 Z" fill="#2f2723"/>
<path d="M879.5,480.83 Q878,472.83 872,469.83" stroke="#cfae80" stroke-width="0.8" fill="none"/>
<path d="M840.5,457.03 A63.01,19.36 0 0 0 715,456.63 Z" fill="#c9cacc" stroke="#2a1c17" stroke-width="1.4" stroke-linejoin="round"/>
<path d="M825.2,456.63 A47.8,14.96 0 0 0 730,456.63 V465.53 H825.2 Z" fill="#58595b" stroke="#2a1c17" stroke-width="1.2"/>
<path d="M825.2,465.73 A47.8,12.43 0 0 0 730,465.73 V469.63 H825.2 Z" fill="#fee2b4"/>
<path d="M825.2,465.73 A47.8,12.43 0 0 0 730,465.73" fill="none" stroke="#2a1c17" stroke-width="1.3"/>
<rect x="868.2" y="453.63" width="5" height="15.6" fill="#231815"/>
<rect x="825.2" y="455.83" width="90.8" height="11" rx="1" fill="#231815"/>
<rect x="826.7" y="459.53" width="88" height="4.8" fill="#8e8f92"/>
<rect x="826.7" y="460.33" width="88" height="3.2" fill="#d4d5d7"/>
<rect x="614" y="455.73" width="116.5" height="12.6" fill="#2a1c17"/>
<rect x="614" y="457.03" width="115.6" height="9.6" fill="#e2b4b1"/>
<rect x="614" y="459.33" width="115.6" height="5.1" fill="#a4a5a8"/>
<rect x="614" y="460.43" width="115.6" height="2.7" fill="#c6c7c9"/>
<rect x="614" y="435.06" width="17.5" height="20.77" fill="#cfd0d2"/>
<circle cx="636.5" cy="444.33" r="10.9" fill="#231815"/>
<path d="M632.5,434.23 A10.9,10.9 0 0 0 632.5,454.43 Z" fill="#2f2723"/>
<path d="M879.5,514.5 Q878,506.5 872,503.5" stroke="#cfae80" stroke-width="0.8" fill="none"/>
<path d="M840.5,490.7 A63.01,19.36 0 0 0 715,490.3 Z" fill="#c9cacc" stroke="#2a1c17" stroke-width="1.4" stroke-linejoin="round"/>
<path d="M825.2,490.3 A47.8,14.96 0 0 0 730,490.3 V499.2 H825.2 Z" fill="#58595b" stroke="#2a1c17" stroke-width="1.2"/>
<path d="M825.2,499.4 A47.8,12.43 0 0 0 730,499.4 V503.3 H825.2 Z" fill="#fee2b4"/>
<path d="M825.2,499.4 A47.8,12.43 0 0 0 730,499.4" fill="none" stroke="#2a1c17" stroke-width="1.3"/>
<rect x="868.2" y="487.3" width="5" height="15.6" fill="#231815"/>
<rect x="825.2" y="489.5" width="90.8" height="11" rx="1" fill="#231815"/>
<rect x="826.7" y="493.2" width="88" height="4.8" fill="#8e8f92"/>
<rect x="826.7" y="494" width="88" height="3.2" fill="#d4d5d7"/>
<rect x="614" y="489.4" width="116.5" height="12.6" fill="#2a1c17"/>
<rect x="614" y="490.7" width="115.6" height="9.6" fill="#e2b4b1"/>
<rect x="614" y="493" width="115.6" height="5.1" fill="#a4a5a8"/>
<rect x="614" y="494.1" width="115.6" height="2.7" fill="#c6c7c9"/>
<rect x="614" y="468.73" width="17.5" height="20.77" fill="#cfd0d2"/>
<circle cx="636.5" cy="478" r="10.9" fill="#231815"/>
<path d="M632.5,467.9 A10.9,10.9 0 0 0 632.5,488.1 Z" fill="#2f2723"/>
<path d="M840.5,524.37 A63.01,19.36 0 0 0 715,523.97 Z" fill="#c9cacc" stroke="#2a1c17" stroke-width="1.4" stroke-linejoin="round"/>
<path d="M825.2,523.97 A47.8,14.96 0 0 0 730,523.97 V533.47 H825.2 Z" fill="#58595b" stroke="#2a1c17" stroke-width="1.2"/>
<path d="M831,523.97 A53.72,16.06 0 0 0 724,523.97 Z" fill="#98999c" stroke="#2a1c17" stroke-width="1.1"/>
<rect x="868.2" y="520.97" width="5" height="15.6" fill="#231815"/>
<rect x="825.2" y="523.17" width="90.8" height="11" rx="1" fill="#231815"/>
<rect x="826.7" y="526.87" width="88" height="4.8" fill="#8e8f92"/>
<rect x="826.7" y="527.67" width="88" height="3.2" fill="#d4d5d7"/>
<rect x="614" y="523.07" width="116.5" height="12.6" fill="#2a1c17"/>
<rect x="614" y="524.37" width="115.6" height="9.6" fill="#e2b4b1"/>
<rect x="614" y="526.67" width="115.6" height="5.1" fill="#a4a5a8"/>
<rect x="614" y="527.77" width="115.6" height="2.7" fill="#c6c7c9"/>
<rect x="614" y="502.4" width="17.5" height="20.77" fill="#cfd0d2"/>
<circle cx="636.5" cy="511.67" r="10.9" fill="#231815"/>
<path d="M632.5,501.57 A10.9,10.9 0 0 0 632.5,521.77 Z" fill="#2f2723"/>
<path d="M131.3,424.5 V407 L147.4,404.5 V424.5 Z" fill="#c9cacc"/>
<path d="M925.4,187 V167.5 L912.1,165 V187 Z" fill="#c9cacc"/>
<linearGradient id="tg" x1="0" x2="1" y1="0" y2="0"><stop offset="0" stop-color="#2a1a12"/><stop offset="0.6" stop-color="#6b431f"/><stop offset="0.72" stop-color="#c6925e"/><stop offset="1" stop-color="#d2a678"/></linearGradient>
<rect x="874" y="254.21" width="42.8" height="10.4" rx="1" fill="url(#tg)"/>
<rect x="874" y="257.51" width="41.5" height="4.8" fill="#9a9896"/>
<rect x="874" y="258.31" width="41.5" height="3.2" fill="#d4d5d7"/>
<!-- tube -->
<path d="M445,544.4 V131.5 A84.5,15 0 0 1 614,131.5 V544.4 Z" fill="#fff"/>
<clipPath id="tc"><rect x="445" y="110" width="169" height="434.4"/></clipPath>
<g clip-path="url(#tc)">
<path d="M445,151.8 A84.5,15 0 0 1 614,151.8 V165.7 A84.5,15 0 0 0 445,165.7 Z" fill="#f6c9c9"/>
<path d="M445,156.4 A84.5,15 0 0 1 614,156.4 V161.2 A84.5,15 0 0 0 445,161.2 Z" fill="#b4b5b8"/>
<path d="M445,156.4 A84.5,15 0 0 1 614,156.4 M445,161.2 A84.5,15 0 0 1 614,161.2" stroke="#8d8e91" stroke-width="0.5" fill="none"/>
<path d="M445,185.47 A84.5,15 0 0 1 614,185.47 V199.37 A84.5,15 0 0 0 445,199.37 Z" fill="#f6c9c9"/>
<path d="M445,190.07 A84.5,15 0 0 1 614,190.07 V194.87 A84.5,15 0 0 0 445,194.87 Z" fill="#b4b5b8"/>
<path d="M445,190.07 A84.5,15 0 0 1 614,190.07 M445,194.87 A84.5,15 0 0 1 614,194.87" stroke="#8d8e91" stroke-width="0.5" fill="none"/>
<path d="M445,219.14 A84.5,15 0 0 1 614,219.14 V233.04 A84.5,15 0 0 0 445,233.04 Z" fill="#f6c9c9"/>
<path d="M445,223.74 A84.5,15 0 0 1 614,223.74 V228.54 A84.5,15 0 0 0 445,228.54 Z" fill="#b4b5b8"/>
<path d="M445,223.74 A84.5,15 0 0 1 614,223.74 M445,228.54 A84.5,15 0 0 1 614,228.54" stroke="#8d8e91" stroke-width="0.5" fill="none"/>
<path d="M445,252.81 A84.5,15 0 0 1 614,252.81 V266.71 A84.5,15 0 0 0 445,266.71 Z" fill="#f6c9c9"/>
<path d="M445,257.41 A84.5,15 0 0 1 614,257.41 V262.21 A84.5,15 0 0 0 445,262.21 Z" fill="#b4b5b8"/>
<path d="M445,257.41 A84.5,15 0 0 1 614,257.41 M445,262.21 A84.5,15 0 0 1 614,262.21" stroke="#8d8e91" stroke-width="0.5" fill="none"/>
<path d="M445,286.48 A84.5,15 0 0 1 614,286.48 V300.38 A84.5,15 0 0 0 445,300.38 Z" fill="#f6c9c9"/>
<path d="M445,291.08 A84.5,15 0 0 1 614,291.08 V295.88 A84.5,15 0 0 0 445,295.88 Z" fill="#b4b5b8"/>
<path d="M445,291.08 A84.5,15 0 0 1 614,291.08 M445,295.88 A84.5,15 0 0 1 614,295.88" stroke="#8d8e91" stroke-width="0.5" fill="none"/>
<path d="M445,320.15 A84.5,15 0 0 1 614,320.15 V334.05 A84.5,15 0 0 0 445,334.05 Z" fill="#f6c9c9"/>
<path d="M445,324.75 A84.5,15 0 0 1 614,324.75 V329.55 A84.5,15 0 0 0 445,329.55 Z" fill="#b4b5b8"/>
<path d="M445,324.75 A84.5,15 0 0 1 614,324.75 M445,329.55 A84.5,15 0 0 1 614,329.55" stroke="#8d8e91" stroke-width="0.5" fill="none"/>
<path d="M445,353.82 A84.5,15 0 0 1 614,353.82 V367.72 A84.5,15 0 0 0 445,367.72 Z" fill="#f6c9c9"/>
<path d="M445,358.42 A84.5,15 0 0 1 614,358.42 V363.22 A84.5,15 0 0 0 445,363.22 Z" fill="#b4b5b8"/>
<path d="M445,358.42 A84.5,15 0 0 1 614,358.42 M445,363.22 A84.5,15 0 0 1 614,363.22" stroke="#8d8e91" stroke-width="0.5" fill="none"/>
<path d="M445,387.49 A84.5,15 0 0 1 614,387.49 V401.39 A84.5,15 0 0 0 445,401.39 Z" fill="#f6c9c9"/>
<path d="M445,392.09 A84.5,15 0 0 1 614,392.09 V396.89 A84.5,15 0 0 0 445,396.89 Z" fill="#b4b5b8"/>
<path d="M445,392.09 A84.5,15 0 0 1 614,392.09 M445,396.89 A84.5,15 0 0 1 614,396.89" stroke="#8d8e91" stroke-width="0.5" fill="none"/>
<path d="M445,421.16 A84.5,15 0 0 1 614,421.16 V435.06 A84.5,15 0 0 0 445,435.06 Z" fill="#f6c9c9"/>
<path d="M445,425.76 A84.5,15 0 0 1 614,425.76 V430.56 A84.5,15 0 0 0 445,430.56 Z" fill="#b4b5b8"/>
<path d="M445,425.76 A84.5,15 0 0 1 614,425.76 M445,430.56 A84.5,15 0 0 1 614,430.56" stroke="#8d8e91" stroke-width="0.5" fill="none"/>
<path d="M445,454.83 A84.5,15 0 0 1 614,454.83 V468.73 A84.5,15 0 0 0 445,468.73 Z" fill="#f6c9c9"/>
<path d="M445,459.43 A84.5,15 0 0 1 614,459.43 V464.23 A84.5,15 0 0 0 445,464.23 Z" fill="#b4b5b8"/>
<path d="M445,459.43 A84.5,15 0 0 1 614,459.43 M445,464.23 A84.5,15 0 0 1 614,464.23" stroke="#8d8e91" stroke-width="0.5" fill="none"/>
<path d="M445,488.5 A84.5,15 0 0 1 614,488.5 V502.4 A84.5,15 0 0 0 445,502.4 Z" fill="#f6c9c9"/>
<path d="M445,493.1 A84.5,15 0 0 1 614,493.1 V497.9 A84.5,15 0 0 0 445,497.9 Z" fill="#b4b5b8"/>
<path d="M445,493.1 A84.5,15 0 0 1 614,493.1 M445,497.9 A84.5,15 0 0 1 614,497.9" stroke="#8d8e91" stroke-width="0.5" fill="none"/>
<path d="M445,522.17 A84.5,15 0 0 1 614,522.17 V536.07 A84.5,15 0 0 0 445,536.07 Z" fill="#f6c9c9"/>
<path d="M445,526.77 A84.5,15 0 0 1 614,526.77 V531.57 A84.5,15 0 0 0 445,531.57 Z" fill="#b4b5b8"/>
<path d="M445,526.77 A84.5,15 0 0 1 614,526.77 M445,531.57 A84.5,15 0 0 1 614,531.57" stroke="#8d8e91" stroke-width="0.5" fill="none"/>
</g>
<path d="M445.3,131 V544.4 M613.7,131 V544.4" stroke="#97999c" stroke-width="1.4" fill="none"/>
<path d="M445,544.4 H614" stroke="#bfc0c2" stroke-width="1" fill="none"/>
<path d="M426.5,131.5 A103,26.2 0 0 1 632.5,131.5 L614,131.5 A84.5,15 0 0 0 445,131.5 Z" fill="#a2a3a6"/>
<circle cx="422.5" cy="141.3" r="10.9" fill="#231815"/><circle cx="636.5" cy="141.3" r="10.9" fill="#231815"/>
<path d="M426.5,131.2 A10.9,10.9 0 0 1 426.5,151.4 Z" fill="#2f2723"/><path d="M632.5,131.2 A10.9,10.9 0 0 0 632.5,151.4 Z" fill="#2f2723"/>
<path d="M414,135 L426,128 L430,134 Z" fill="#231815"/><path d="M645,135 L633,128 L629,134 Z" fill="#231815"/>
<!-- arrows -->
<g fill="none" stroke="#c5232f" stroke-width="5" stroke-linejoin="round">
<path d="M512.3,20 V500.9"/>
<path d="M512.3,117.9 V119.9 C512.3,131.9 518,138.9 530.5,138.9" stroke-width="4.7"/>
<path d="M512.3,150.9 V152.9 C512.3,164.9 518,171.9 530.5,171.9" stroke-width="4.7"/>
<path d="M512.3,184.4 V186.4 C512.3,198.4 518,205.4 530.5,205.4" stroke-width="4.7"/>
<path d="M512.3,219.2 V221.2 C512.3,233.2 518,240.2 530.5,240.2" stroke-width="4.7"/>
<path d="M512.3,253.6 V255.6 C512.3,267.6 518,274.6 530.5,274.6" stroke-width="4.7"/>
<path d="M512.3,289 V291 C512.3,303 518,310 530.5,310" stroke-width="4.7"/>
<path d="M512.3,324.6 V326.6 C512.3,338.6 518,345.6 530.5,345.6" stroke-width="4.7"/>
<path d="M512.3,359.6 V361.6 C512.3,373.6 518,380.6 530.5,380.6" stroke-width="4.7"/>
<path d="M512.3,395.6 V397.6 C512.3,409.6 518,416.6 530.5,416.6" stroke-width="4.7"/>
<path d="M512.3,429 V431 C512.3,443 518,450 530.5,450" stroke-width="4.7"/>
<path d="M512.3,463.4 V465.4 C512.3,477.4 518,484.4 530.5,484.4" stroke-width="4.7"/>
<path d="M512.3,498.9 V500.9 C512.3,512.9 518,519.9 530.5,519.9" stroke-width="4.7"/>
<path d="M281,170 V360"/>
<path d="M281,290.5 V292.5 Q281,307.5 296,307.5 H366"/>
<path d="M281,324 V326 Q281,341 296,341 H366"/>
<path d="M281,357.5 V359.5 Q281,374.5 296,374.5 H366"/>
<path d="M281,625 V428"/>
<path d="M380,412.5 H296 Q281,412.5 281,427.5 V429.5"/>
<path d="M380,446.3 H296 Q281,446.3 281,461.3 V463.3"/>
<path d="M380,474.3 H296 Q281,474.3 281,489.3 V491.3"/>
<path d="M380,507 H296 Q281,507 281,522 V524"/>
<path d="M777,0 V260"/>
<path d="M777,158.5 V160.5 Q777,175.5 762,175.5 H700"/>
<path d="M777,191.8 V193.8 Q777,208.8 762,208.8 H700"/>
<path d="M777,224.8 V226.8 Q777,241.8 762,241.8 H700"/>
<path d="M777,258 V260 Q777,275 762,275 H700"/>
<path d="M778.5,308 V500"/>
<path d="M778.5,395.2 V397.2 Q778.5,412.2 763.5,412.2 H700"/>
<path d="M778.5,428.7 V430.7 Q778.5,445.7 763.5,445.7 H700"/>
<path d="M778.5,461.9 V463.9 Q778.5,478.9 763.5,478.9 H700"/>
<path d="M778.5,498 V500 Q778.5,515 763.5,515 H700"/>
</g>
<g fill="#c5232f">
<path d="M503.5,24.5 L512,-6 L520.5,24.5 Z"/>
<path d="M364.5,299.5 L387.5,307.5 L364.5,315.5 Z"/>
<path d="M364.5,333 L387.5,341 L364.5,349 Z"/>
<path d="M364.5,366.5 L387.5,374.5 L364.5,382.5 Z"/>
<path d="M272.4,623 L281,647 L289.6,623 Z"/>
<path d="M701,167.5 L677.5,175.5 L701,183.5 Z"/>
<path d="M701,200.8 L677.5,208.8 L701,216.8 Z"/>
<path d="M701,233.8 L677.5,241.8 L701,249.8 Z"/>
<path d="M701,267 L677.5,275 L701,283 Z"/>
<path d="M702,404.2 L678.5,412.2 L702,420.2 Z"/>
<path d="M702,437.7 L678.5,445.7 L702,453.7 Z"/>
<path d="M702,470.9 L678.5,478.9 L702,486.9 Z"/>
<path d="M702,507 L678.5,515 L702,523 Z"/>
</g>
<path d="M0,358 H78" stroke="#111" stroke-width="2.6"/>
<path d="M74.5,344.5 Q95,352 118,358 Q95,364 74.5,371.5 Z" fill="#0b160b"/>
<ellipse cx="637.5" cy="516" rx="64.5" ry="27" fill="none" stroke="#111" stroke-width="3"/>
<path d="M648.6,543.5 L660.6,566" stroke="#111" stroke-width="3.2"/>
<!-- inset -->
<path d="M656,565.3 H879 V668 H715 V600 Z" fill="#fee2b4"/>
<path d="M655.5,567.3 C695,573 748,590 761.5,616 L715,616.8 C708,606 685,596.5 655.5,591.6 Z" fill="#929497" stroke="#2e2e30" stroke-width="1.6"/>
<path d="M739,592.6 L798,620.3 A25,25 0 1 1 762.3,640 V616 C757,606 749,598.5 739,592.6 Z" fill="#231815"/>
<circle cx="787.5" cy="642.3" r="25" fill="#231815"/>
<rect x="715.3" y="617.3" width="46.5" height="50" fill="#c2c3c5" stroke="#2a1d18" stroke-width="2.1"/>
<rect x="715" y="668" width="164" height="34.5" fill="#fbc6b2"/>
<rect x="715" y="677.5" width="164" height="13.8" fill="#c2c3c5"/>
<path d="M715,667.7 H879 M715,702.6 H879" stroke="#3b2a26" stroke-width="1.9"/>
<path d="M715,677.4 H879 M715,691.4 H879" stroke="#4a3029" stroke-width="1.5"/>
<path d="M654.5,642.5 Q700,648 715,668 V702.5 Q700,682.5 654.5,675 Z" fill="#fbc6b2"/>
<path d="M654.5,653 Q700,658.5 715,678.5 V691.3 Q700,671.5 654.5,664 Z" fill="#c2c3c5"/>
<path d="M654.5,642.5 Q700,648 715,668 M654.5,675 Q700,682.5 715,702.5" stroke="#3b2a26" stroke-width="1.9" fill="none"/>
<path d="M654.5,653 Q700,658.5 715,678.5 M654.5,664 Q700,671.5 715,691.3" stroke="#4a3029" stroke-width="1.5" fill="none"/>
<path d="M715,617 V702.8" stroke="#3b2a26" stroke-width="1.3"/>
<g fill="none" stroke="#1a1a1a" stroke-width="2">
<path d="M726,605 L760,571.8 H914"/>
<path d="M791,619.5 L813.5,598.4 H914"/>
<path d="M832.5,663.5 L863.5,633.8 H914"/>
<path d="M857,673.5 L872.5,658.7 H914"/>
<path d="M873.5,684.8 H914"/>
<path d="M856.5,697 L869.5,709.3 H914"/>
<path d="M834.8,707.7 L864.8,735 H914"/>
<path d="M702.8,716 L736,760.5 H914"/>
</g>
<g font-family="Liberation Sans, sans-serif" fill="#231f20">
<text x="322" y="19.1" font-size="25" textLength="173.5" lengthAdjust="spacingAndGlyphs">Clear Permeate</text>
<text x="708.3" y="20" font-size="25" textLength="54" lengthAdjust="spacingAndGlyphs">Feed</text>
<text x="209.5" y="674.8" font-size="27" textLength="146" lengthAdjust="spacingAndGlyphs">Concentrate</text>
<text x="923.3" y="580.6" font-size="20.6" textLength="129" lengthAdjust="spacingAndGlyphs">O-ring retainer</text>
<text x="923.3" y="607" font-size="20.6" textLength="57" lengthAdjust="spacingAndGlyphs">O-ring</text>
<text x="923.3" y="640" font-size="20.6" textLength="93" lengthAdjust="spacingAndGlyphs">Membrane</text>
<text x="923.3" y="666.8" font-size="20.6" textLength="99" lengthAdjust="spacingAndGlyphs">Drain Cloth</text>
<text x="922" y="691.3" font-size="20.6" textLength="173.5" lengthAdjust="spacingAndGlyphs">Stainless Steel Tray</text>
<text x="923.3" y="717" font-size="20.6" textLength="99" lengthAdjust="spacingAndGlyphs">Drain Cloth</text>
<text x="923.3" y="742.8" font-size="20.6" textLength="93" lengthAdjust="spacingAndGlyphs">Membrane</text>
<text x="923.3" y="767" font-size="20.6" textLength="159" lengthAdjust="spacingAndGlyphs">Permeate Channel</text>
</g>
</svg>
</body></html>
